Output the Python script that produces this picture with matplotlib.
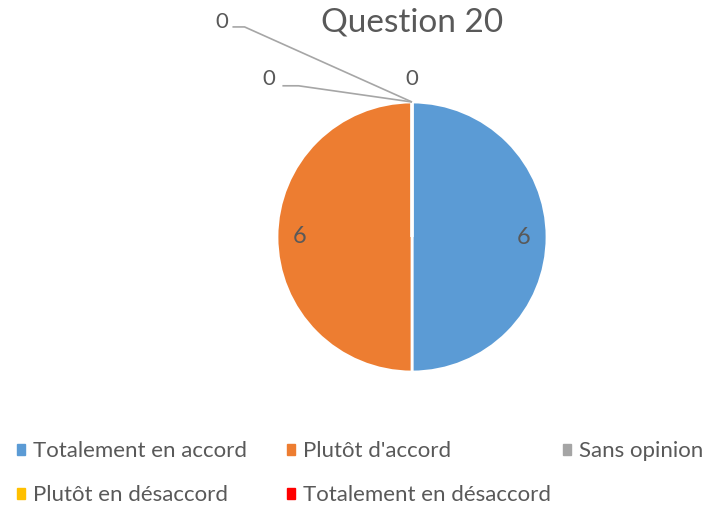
import matplotlib as mpl
import matplotlib.pyplot as plt
import numpy as np

categories = ["Totalement en accord", "Plutôt d'accord", "Sans opinion",
              "Plutôt en désaccord", "Totalement en désaccord"]
values = [6, 6, 0, 0, 0]
colors = ["#5B9BD5", "#ED7D31", "#A5A5A5", "#FFC000", "#FF0000"]
title = "Question 20"

TXT = "#595959"
mpl.rcParams["font.family"] = ["Lato", "DejaVu Sans"]

W, H = 704, 508
fig = plt.figure(figsize=(W / 100, H / 100), dpi=100)
cx, cy, r = 412, 237, 135
ax = fig.add_axes([(cx - r) / W, (H - cy - r) / H, 2 * r / W, 2 * r / H])

wedges, _ = ax.pie(values, colors=colors, startangle=90, counterclock=False,
                   radius=1, frame=True,
                   wedgeprops=dict(edgecolor="white", linewidth=2))
ax.set_xlim(-1, 1)
ax.set_ylim(-1, 1)
ax.set_aspect("equal")
ax.axis("off")

# data labels: non-zero inside near the edge, zero ones outside with leaders
zero_offsets = [(0.0, 1.17, None), (-1.06, 1.17, (-0.96, -0.84, 1.12)),
                (-1.41, 1.59, (-1.33, -1.24, 1.556))]
zi = 0
for w, v in zip(wedges, values):
    ang = np.deg2rad((w.theta1 + w.theta2) / 2)
    if v > 0:
        ax.text(0.83 * np.cos(ang), 0.83 * np.sin(ang), str(v),
                ha="center", va="center", fontsize=17, color=TXT)
    else:
        tx, ty, lead = zero_offsets[zi]
        zi += 1
        ax.text(tx, ty, str(v), ha="center", va="center", fontsize=16,
                color=TXT, clip_on=False)
        if lead is not None:
            x0, x1, ly = lead
            px, py = np.cos(ang) * 1.0, np.sin(ang) * 1.0
            ax.plot([x0, x1, px], [ly, ly, py], color="#A6A6A6", lw=1.2,
                    clip_on=False, solid_capstyle="butt")

fig.text(cx / W, 1 - 23 / H, title, ha="center", va="center",
         fontsize=24, color=TXT)

# legend: three columns laid out row by row as in the reference
col_x = [17, 287, 563]
columns = [[0, 3], [1, 4], [2]]
for x, idx in zip(col_x, columns):
    handles = [mpl.patches.Patch(color=colors[i]) for i in idx]
    labels = [categories[i] for i in idx]
    fig.legend(handles, labels, loc="upper left",
               bbox_to_anchor=(x / W, 1 - 441 / H), frameon=False,
               fontsize=16, labelcolor=TXT, handlelength=0.38,
               handleheight=0.38, handletextpad=0.35, labelspacing=1.08,
               borderpad=0, borderaxespad=0)

fig.savefig("out.png", dpi=100)
